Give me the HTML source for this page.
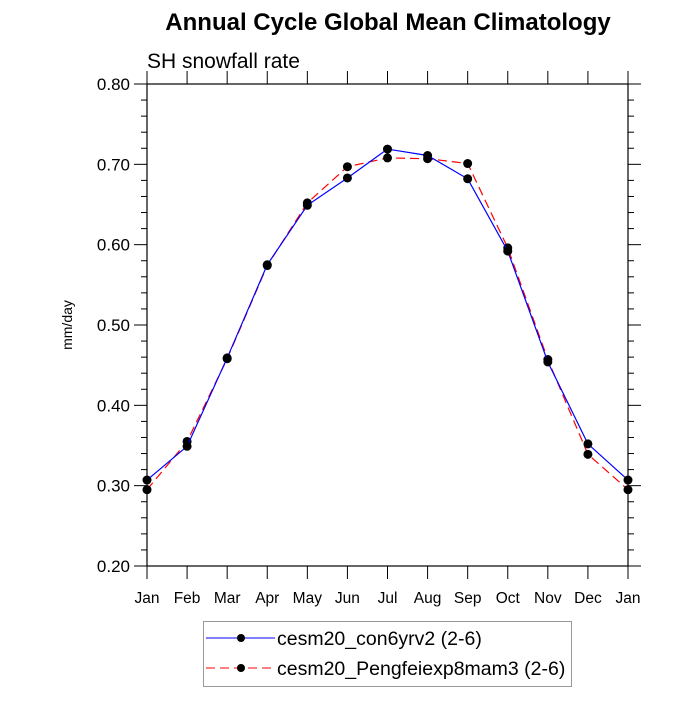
<!DOCTYPE html>
<html><head><meta charset="utf-8"><style>
body{margin:0;background:#fff;}
svg text{font-family:"Liberation Sans",Arial,sans-serif;}
</style></head><body>
<svg width="700" height="700" xmlns="http://www.w3.org/2000/svg">
<text x="388" y="30" text-anchor="middle" font-size="24" font-weight="bold">Annual Cycle Global Mean Climatology</text>
<text x="147" y="68" font-size="21">SH snowfall rate</text>
<text transform="translate(72,325) rotate(-90)" text-anchor="middle" font-size="14">mm/day</text>
<g id="axes"></g>
<g id="series"></g>
<g>
<rect x="203.5" y="621.5" width="368" height="65" fill="#fff" stroke="#999"/>
<g>
<line x1="206" y1="638" x2="275" y2="638" stroke="#0000ff" stroke-width="1"/>
<circle cx="241" cy="638" r="4" fill="#000"/>
<text x="277" y="645" font-size="19.5">cesm20_con6yrv2 (2-6)</text>
</g>
<g>
<line x1="206" y1="668" x2="275" y2="668" stroke="#ff0000" stroke-width="1" stroke-dasharray="9,5"/>
<circle cx="241" cy="668" r="4" fill="#000"/>
<text x="277" y="675" font-size="19.5">cesm20_Pengfeiexp8mam3 (2-6)</text>
</g>
</g>
</svg>
<script>
const months=["Jan","Feb","Mar","Apr","May","Jun","Jul","Aug","Sep","Oct","Nov","Dec","Jan"];
const con6yrv2=[0.307,0.349,0.459,0.575,0.649,0.683,0.719,0.711,0.682,0.592,0.454,0.352,0.307];
const pengfei=[0.295,0.355,0.458,0.574,0.652,0.697,0.708,0.707,0.701,0.596,0.457,0.339,0.295];
const yTicks=[0.20,0.30,0.40,0.50,0.60,0.70,0.80];
const X0=147,X1=628,Y0=566,Y1=84,YMIN=0.2,YMAX=0.8;
const xs=i=>X0+(X1-X0)*i/(months.length-1);
const ys=v=>Y0-(v-YMIN)/(YMAX-YMIN)*(Y0-Y1);
const NS="http://www.w3.org/2000/svg";
function mk(tag,attrs,parent){const e=document.createElementNS(NS,tag);for(const k in attrs)e.setAttribute(k,attrs[k]);parent.appendChild(e);return e;}
const ax=document.getElementById('axes');
const frame=mk('rect',{x:X0,y:Y1,width:X1-X0,height:Y0-Y1,fill:'none',stroke:'#000','stroke-width':1.2},ax);


for(let v=0.2;v<=0.8001;v+=0.02){
  const major=Math.abs(Math.round(v*100)%10)<0.5;
  const L=major?13:6;const y=ys(v);
  mk('line',{x1:X0-L,y1:y,x2:X0,y2:y,stroke:'#000','stroke-width':1},ax);
  mk('line',{x1:X1,y1:y,x2:X1+L,y2:y,stroke:'#000','stroke-width':1},ax);
}
yTicks.forEach(v=>{
  const t=mk('text',{x:X0-17,y:ys(v)+6,'text-anchor':'end','font-size':17},ax);
  t.textContent=v.toFixed(2);
  
  
});
months.forEach((m,i)=>{
  const x=xs(i);
  mk('line',{x1:x,y1:Y0,x2:x,y2:Y0+13,stroke:'#000','stroke-width':1},ax);
  mk('line',{x1:x,y1:Y1,x2:x,y2:Y1-13,stroke:'#000','stroke-width':1},ax);
  const t=mk('text',{x:x,y:Y0+37,'text-anchor':'middle','font-size':15.5},ax);
  t.textContent=m;
  
  
});
const sg=document.getElementById('series');
function draw(data,color,dash,name){
  const g=mk('g',{},sg);
  
  
  const pts=data.map((v,i)=>xs(i)+','+ys(v)).join(' ');
  const pl=mk('polyline',{points:pts,fill:'none',stroke:color,'stroke-width':1.2,'stroke-dasharray':dash},g);
  
  
  data.forEach((v,i)=>{
    const c=mk('circle',{cx:xs(i),cy:ys(v),r:4.5,fill:'#000'},g);
    
    
  });
}
draw(pengfei,'#ff0000','9,5','series-pengfeiexp8mam3');
draw(con6yrv2,'#0000ff','none','series-con6yrv2');
</script>
</body></html>
